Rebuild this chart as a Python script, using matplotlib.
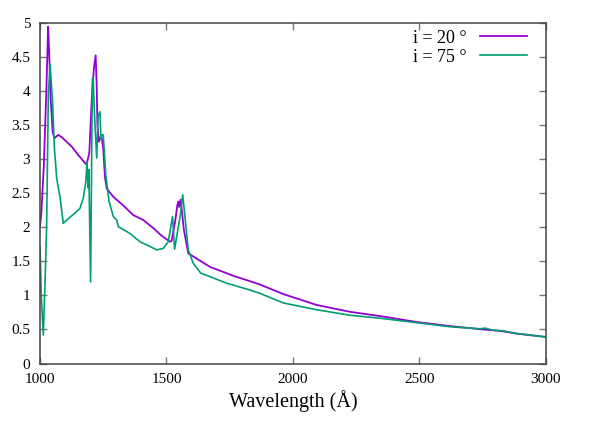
import matplotlib
matplotlib.use("Agg")
import matplotlib.pyplot as plt

# spectra (wavelength in Angstrom, flux)
wave_20 = [1000, 1005, 1015, 1025, 1032, 1036, 1042, 1050, 1057, 1072, 1085, 1099,
           1125, 1152, 1184, 1195, 1204, 1213, 1220, 1224, 1227, 1233, 1240, 1245,
           1250, 1257, 1264, 1290, 1330, 1369, 1408, 1448, 1480, 1514, 1520, 1534,
           1543, 1547, 1550, 1556, 1569, 1586, 1620, 1672, 1771, 1830, 1870, 1962,
           2094, 2225, 2357, 2489, 2621, 2752, 2818, 2884, 3000]
flux_20 = [2.02, 2.2, 2.9, 4.0, 4.95, 4.6, 3.9, 3.4, 3.31, 3.36, 3.33, 3.28,
           3.19, 3.06, 2.92, 3.1, 3.85, 4.34, 4.53, 4.1, 3.5, 3.26, 3.33, 3.3,
           3.15, 2.73, 2.57, 2.45, 2.32, 2.18, 2.11, 1.99, 1.88, 1.79, 1.8, 2.08,
           2.33, 2.38, 2.3, 2.41, 1.96, 1.62, 1.54, 1.42, 1.28, 1.21, 1.16, 1.02,
           0.86, 0.76, 0.69, 0.61, 0.55, 0.50, 0.48, 0.44, 0.39]

wave_75 = [1000, 1005, 1013, 1020, 1026, 1033, 1040, 1045, 1049, 1057, 1066, 1079,
           1092, 1112, 1138, 1158, 1171, 1181, 1186, 1188, 1191, 1193, 1200, 1203,
           1207, 1210, 1215, 1224, 1230, 1237, 1241, 1244, 1250, 1260, 1273, 1290,
           1303, 1310, 1356, 1395, 1435, 1461, 1487, 1507, 1524, 1532, 1547, 1556,
           1564, 1573, 1586, 1606, 1635, 1738, 1830, 1870, 1962, 2094, 2225, 2357,
           2489, 2621, 2740, 2760, 2790, 2831, 2884, 3000]
flux_75 = [1.72, 1.0, 0.42, 1.2, 1.99, 3.95, 4.4, 4.1, 3.9, 3.16, 2.72, 2.45,
           2.06, 2.13, 2.21, 2.28, 2.43, 2.67, 2.95, 2.75, 2.58, 2.85, 1.2, 2.5,
           4.19, 4.2, 3.7, 3.02, 3.65, 3.7, 3.3, 3.36, 3.36, 2.77, 2.38, 2.16,
           2.11, 2.01, 1.91, 1.79, 1.72, 1.67, 1.69, 1.79, 2.16, 1.68, 2.01, 2.21,
           2.48, 2.16, 1.67, 1.47, 1.33, 1.18, 1.08, 1.03, 0.89, 0.79, 0.71, 0.66,
           0.60, 0.54, 0.51, 0.52, 0.49, 0.48, 0.44, 0.39]

labels = ["i = 20 \u00b0", "i = 75 \u00b0"]
xticks = [1000, 1500, 2000, 2500, 3000]
yticks = [0, 0.5, 1, 1.5, 2, 2.5, 3, 3.5, 4, 4.5, 5]

plt.rcParams['font.family'] = ['Liberation Serif', 'DejaVu Serif']

fig = plt.figure(figsize=(5.98, 4.48), dpi=100)
ax = fig.add_axes([0.0669, 0.1886, 0.846, 0.7594])

ax.plot(wave_20, flux_20, color='#9400d3', lw=1.3, label=labels[0])
ax.plot(wave_75, flux_75, color='#009e73', lw=1.2, label=labels[1])

ax.set_xlim(1000, 3000)
ax.set_ylim(0, 5)
ax.set_xticks(xticks)
ax.set_yticks(yticks)
ax.set_yticklabels([f"{v:g}" for v in yticks])
ax.tick_params(direction='in', length=5, width=1, color='#777777',
               top=True, right=True, labelsize=11, pad=7)
for s in ax.spines.values():
    s.set_color('#444444')
    s.set_linewidth(1.1)

ax.set_xlabel("Wavelength (\u00c5)", fontsize=14.5, labelpad=3)

ax.legend(loc='upper right', frameon=False, markerfirst=False, fontsize=13,
          handlelength=2.6, handletextpad=0.7, labelspacing=0.1,
          borderaxespad=0.3, bbox_to_anchor=(0.987, 1.018))

fig.savefig("out.png", dpi=100)
